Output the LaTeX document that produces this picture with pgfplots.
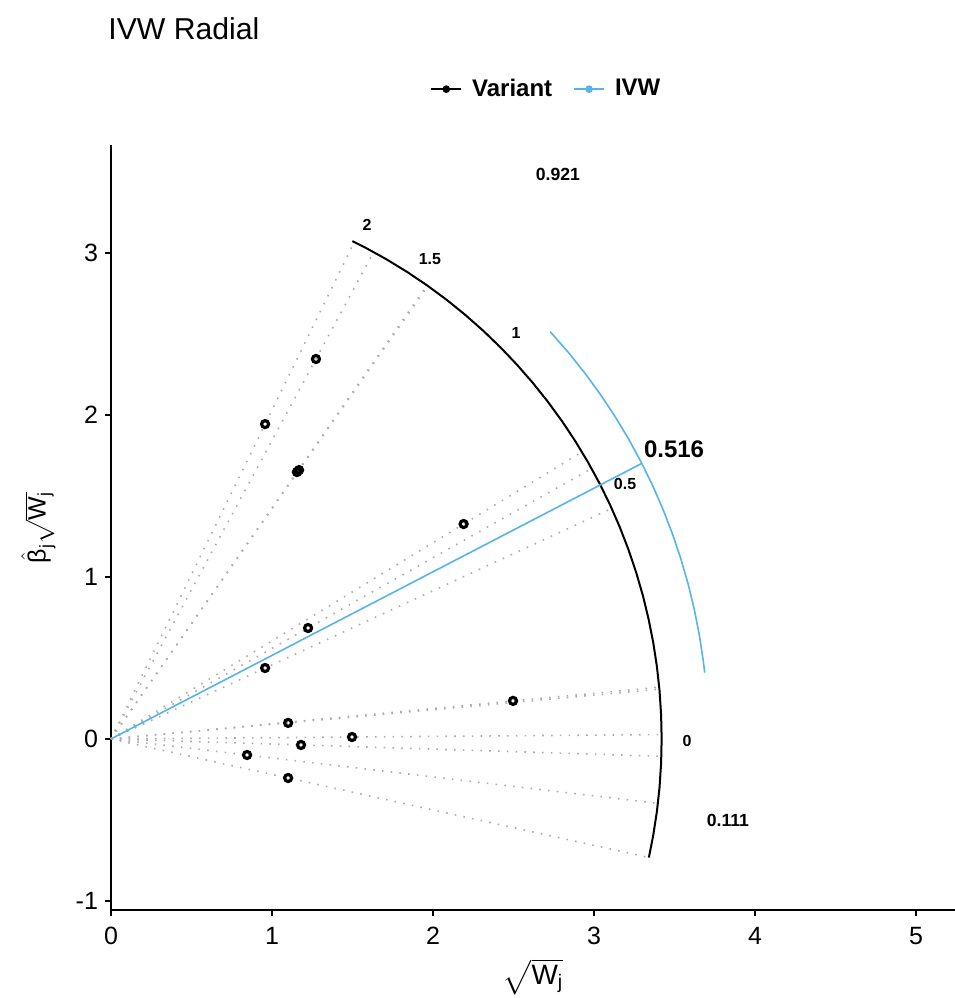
\documentclass[border=0pt]{standalone}
\usepackage{pgfplots}
\pgfplotsset{compat=1.18}
\usepackage{amsmath}
\usepackage{fontspec}
\setmainfont{Liberation Sans}
\definecolor{ivwblue}{RGB}{86,180,233}
\tikzset{lab/.style={font=\bfseries\fontsize{8}{9}\selectfont, inner sep=0pt}}
\pgfplotsset{radial/.style={gray!65, line width=0.8pt, dash pattern=on 0.8pt off 3.6pt, forget plot}}
\begin{document}
\begin{tikzpicture}
\path[use as bounding box] (-55.5pt,-44pt) rectangle (422pt,455pt);
\begin{axis}[
 name=ax, at={(0,0)}, anchor=south west,
 scale only axis, width=422pt, height=382.5pt,
 xmin=0, xmax=5.242, ymin=-1.056, ymax=3.667,
 axis lines=left, axis line style={-, line width=1pt, black},
 xtick={0,1,2,3,4,5}, ytick={-1,0,1,2,3},
 tick align=outside, major tick length=3pt,
 tick style={black, line width=0.8pt},
 ticklabel style={font=\fontsize{12.5}{15}\selectfont},
 xticklabel style={yshift=-2pt},
 /pgf/number format/assume math mode=true,
 every axis x label/.style={at={(axis description cs:0.5,0)}, anchor=center, yshift=-33.5pt, font=\fontsize{14}{16}\selectfont},
 every axis y label/.style={at={(axis description cs:-0.086,0.5)}, anchor=center, rotate=90, inner sep=0pt, font=\fontsize{12.5}{14}\selectfont},
 xlabel={$\sqrt{\text{W}_{\text{j}}}$},
 ylabel={$\hat{\text{β}}_{\text{j}}\sqrt{\text{W}_{\text{j}}}$},
 legend style={at={(0.517,1.073)}, anchor=center, draw=none, fill=none, legend columns=-1,
   font=\bfseries\fontsize{12}{14}\selectfont,
   /tikz/every even column/.append style={column sep=8.5pt},
   /tikz/every odd column/.append style={column sep=3pt}},
 clip=false,
]
% dotted radial lines from origin to the scale arc
\addplot[radial] coordinates {(0,0) (1.631,3.006)};
\addplot[radial] coordinates {(0,0) (1.511,3.068)};
\addplot[radial] coordinates {(0,0) (1.963,2.801)};
\addplot[radial] coordinates {(0,0) (1.968,2.797)};
\addplot[radial] coordinates {(0,0) (2.925,1.772)};
\addplot[radial] coordinates {(0,0) (2.985,1.670)};
\addplot[radial] coordinates {(0,0) (3.110,1.423)};
\addplot[radial] coordinates {(0,0) (3.405,0.320)};
\addplot[radial] coordinates {(0,0) (3.406,0.307)};
\addplot[radial] coordinates {(0,0) (3.420,0.027)};
\addplot[radial] coordinates {(0,0) (3.418,-0.107)};
\addplot[radial] coordinates {(0,0) (3.397,-0.398)};
\addplot[radial] coordinates {(0,0) (3.341,-0.732)};
% black scale arc (radius 3.42)
\addplot[black, line width=1pt, forget plot] coordinates {
(3.3407,-0.7321) (3.3680,-0.5939) (3.3907,-0.4464) (3.4070,-0.2981) (3.4167,-0.1492) (3.42,0)
(3.4167,0.1492) (3.4070,0.2981) (3.3907,0.4464) (3.3680,0.5939) (3.3389,0.7402)
(3.3035,0.8852) (3.2617,1.0284) (3.2137,1.1697) (3.1597,1.3088) (3.0996,1.4454)
(3.0336,1.5792) (2.9618,1.71) (2.8844,1.8376) (2.8015,1.9616) (2.7133,2.0820)
(2.6199,2.1983) (2.5215,2.3105) (2.4183,2.4183) (2.3105,2.5215) (2.1983,2.6199)
(2.0820,2.7133) (1.9616,2.8015) (1.8376,2.8844) (1.71,2.9618) (1.5792,3.0336) (1.4992,3.0739)};
% IVW confidence arc (radius 3.71)
\addplot[ivwblue, line width=0.8pt, forget plot] coordinates {
(3.6874,0.4091) (3.6782,0.4843) (3.6536,0.6442) (3.6221,0.8030) (3.5836,0.9602)
(3.5383,1.1156) (3.4862,1.2689) (3.4276,1.4197) (3.3624,1.5679) (3.2908,1.7131)
(3.2130,1.855) (3.1290,1.9934) (3.0390,2.1280) (2.9433,2.2585) (2.8420,2.3848) (2.7280,2.5144)};
% IVW line
\addplot[ivwblue, line width=0.8pt, forget plot] coordinates {(0,0) (3.298,1.702)};
% variants
\addplot[only marks, mark=o, mark size=1.75pt, mark options={line width=1.6pt, black}, forget plot] coordinates {
(1.273,2.346) (0.957,1.944) (1.155,1.648) (1.168,1.660) (2.190,1.327) (1.224,0.685)
(0.957,0.438) (2.497,0.235) (1.100,0.099) (1.497,0.012) (1.180,-0.037) (0.845,-0.099) (1.100,-0.241)};
\addlegendimage{legend image code/.code={\draw[black,line width=0.9pt] (0pt,0pt) -- (15pt,0pt); \fill[black] (7.5pt,0pt) circle (1.7pt);}}
\addlegendentry{Variant}
\addlegendimage{legend image code/.code={\draw[ivwblue,line width=0.9pt] (0pt,0pt) -- (15pt,0pt); \fill[ivwblue] (7.5pt,0pt) circle (1.7pt);}}
\addlegendentry{IVW}
% arc labels
\node[lab] at (axis cs:1.59,3.173) {2};
\node[lab] at (axis cs:1.981,2.963) {1.5};
\node[lab] at (axis cs:2.516,2.506) {1};
\node[lab] at (axis cs:3.193,1.574) {0.5};
\node[lab] at (axis cs:3.578,-0.012) {0};
\node[font=\bfseries\fontsize{8.8}{10}\selectfont, inner sep=0pt] at (axis cs:2.776,3.488) {0.921};
\node[font=\bfseries\fontsize{8.8}{10}\selectfont, inner sep=0pt] at (axis cs:3.832,-0.500) {0.111};
\node[font=\bfseries\fontsize{12}{14}\selectfont, inner sep=0pt] at (axis cs:3.497,1.790) {0.516};
\end{axis}
\node[anchor=base west, font=\fontsize{15.1}{18}\selectfont, inner sep=0pt] at (-1.5pt,435pt) {IVW Radial};
\end{tikzpicture}
\end{document}
